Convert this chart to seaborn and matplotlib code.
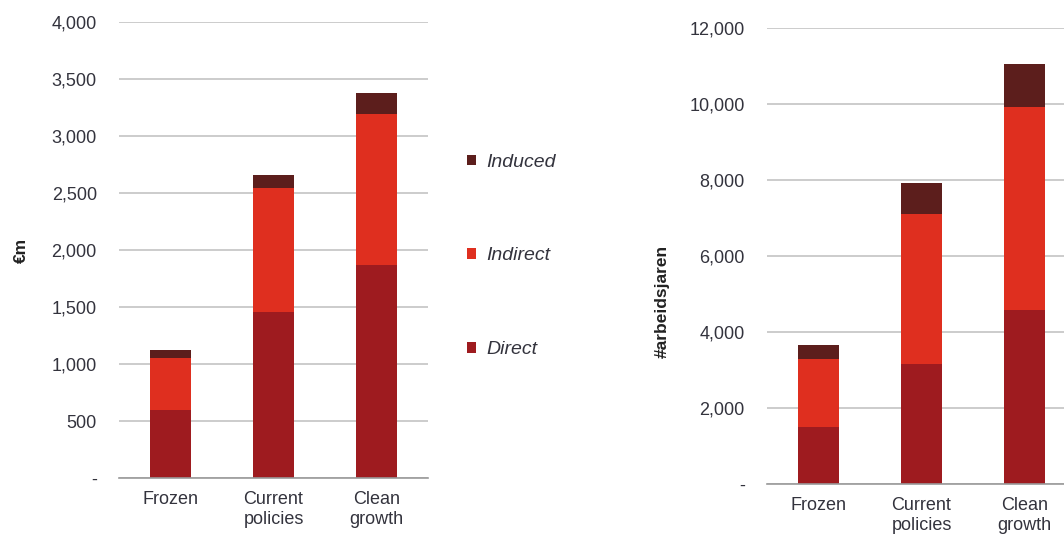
import matplotlib
matplotlib.use("Agg")
import matplotlib.pyplot as plt
from matplotlib.patches import Patch
from matplotlib.ticker import FuncFormatter, FixedLocator
import seaborn as sns

# Scenario categories
categories = ["Frozen", "Current\npolicies", "Clean\ngrowth"]

# Economic impact (€m), stacked components
value_direct = [600, 1460, 1870]
value_indirect = [450, 1080, 1320]
value_induced = [70, 115, 185]

# Employment (labour years), stacked components
jobs_direct = [1500, 3150, 4580]
jobs_indirect = [1800, 3950, 5350]
jobs_induced = [350, 820, 1120]

series_names = ["Direct", "Indirect", "Induced"]
colors = {"Direct": "#9E1B1F", "Indirect": "#DF2F1F", "Induced": "#5C1E1C"}

sns.set_theme(style="white")
plt.rcParams["font.family"] = ["Liberation Sans", "DejaVu Sans"]
text_color = "#33333d"
grid_color = "#c4c4c4"

fig = plt.figure(figsize=(10.64, 5.40), dpi=100)
ax1 = fig.add_axes([119 / 1064, 1 - 478 / 540, 309 / 1064, 456 / 540])
ax2 = fig.add_axes([767 / 1064, 1 - 484 / 540, 309 / 1064, 456 / 540])


def stacked(ax, layers, ymax, step, ylabel, label_x, label_y):
    bottom = [0] * len(categories)
    for name, vals in zip(series_names, layers):
        sns.barplot(x=categories, y=vals, bottom=bottom, color=colors[name],
                    width=0.4, ax=ax, saturation=1, linewidth=0, zorder=3)
        bottom = [b + v for b, v in zip(bottom, vals)]
    ax.set_ylim(0, ymax)
    ax.set_xlim(-0.5, len(categories) - 0.5)
    ax.yaxis.set_major_locator(FixedLocator(list(range(0, ymax + 1, step))))
    ax.yaxis.set_major_formatter(FuncFormatter(lambda v, p: "-" if v == 0 else f"{int(v):,}"))
    ax.grid(axis="y", color=grid_color, linewidth=1.2, zorder=0)
    ax.grid(axis="x", visible=False)
    for s in ["top", "right", "left"]:
        ax.spines[s].set_visible(False)
    ax.spines["bottom"].set_color("#9a9a9a")
    ax.spines["bottom"].set_linewidth(1.2)
    ax.spines["bottom"].set_zorder(4)
    ax.tick_params(axis="y", length=0, pad=16, labelsize=13, labelcolor=text_color)
    ax.tick_params(axis="x", which="major", length=0, pad=9, labelsize=13,
                   labelcolor=text_color)
    for lbl in ax.get_xticklabels():
        lbl.set_linespacing(1.3)
    ax.set_xticks([i - 0.5 for i in range(len(categories) + 1)], minor=True)
    ax.tick_params(axis="x", which="minor", length=7, width=1.2, color="#9a9a9a",
                   direction="out")
    ax.set_xlabel("")
    ax.set_ylabel(ylabel, fontsize=12.5, fontweight="bold", color="#222222")
    ax.yaxis.set_label_coords(label_x, label_y)
    ax.set_facecolor("white")


stacked(ax1, [value_direct, value_indirect, value_induced], 4000, 500, "€m", -0.29, 0.5)
stacked(ax2, [jobs_direct, jobs_indirect, jobs_induced], 12000, 2000, "#arbeidsjaren",
        -0.315, 0.40)

handles = [Patch(facecolor=colors[n], edgecolor="none", label=n) for n in reversed(series_names)]
fig.legend(handles=handles, loc="center left", bbox_to_anchor=(459 / 1064, 1 - 256 / 540),
           frameon=False, borderaxespad=0, handlelength=0.45, handleheight=0.45,
           handletextpad=0.55, labelspacing=3.95, prop={"style": "italic", "size": 14},
           labelcolor=text_color)

fig.savefig("out.png", dpi=100, facecolor="white")
